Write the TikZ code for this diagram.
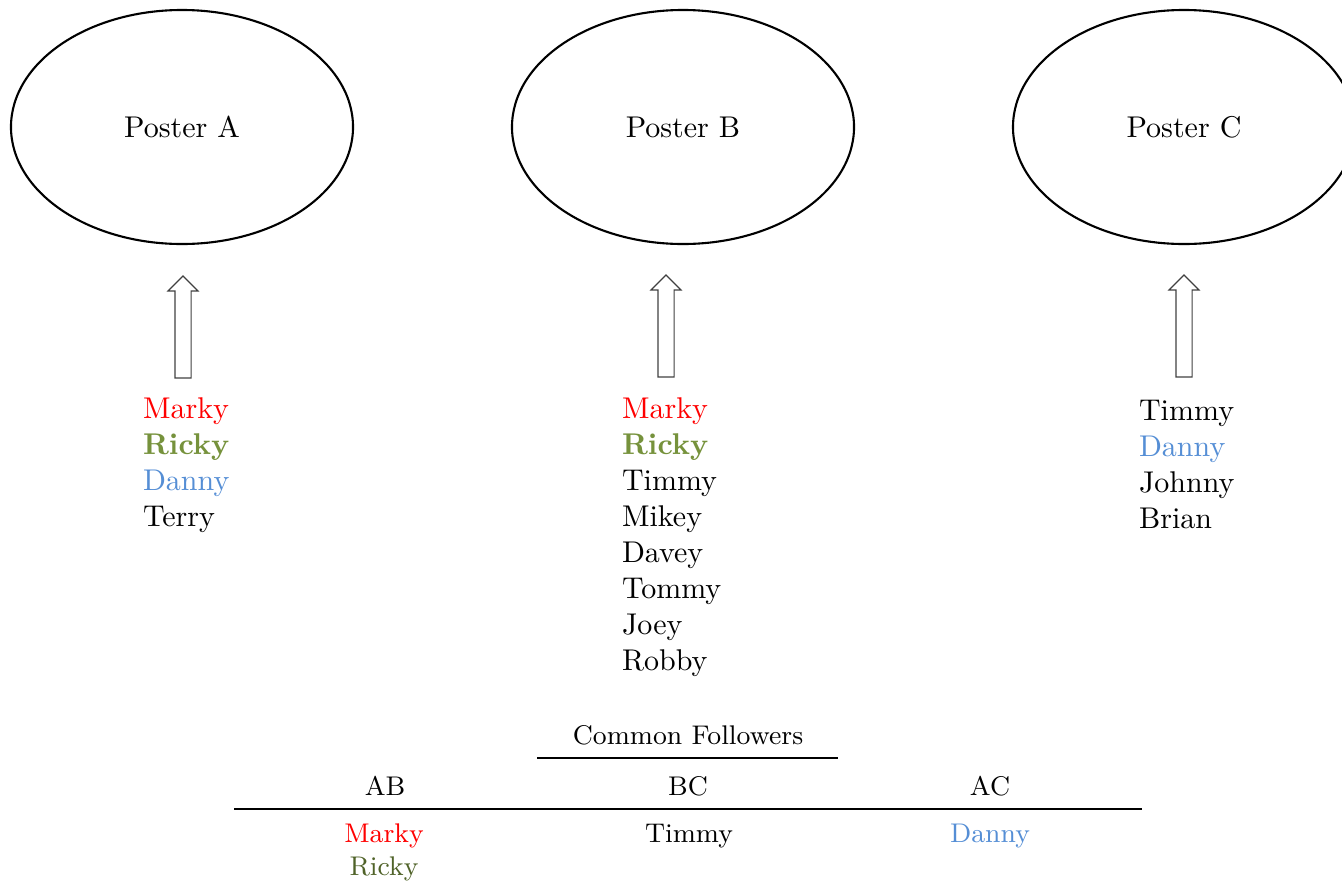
\documentclass[tikz,border=0pt]{standalone}
\usetikzlibrary{shapes.geometric,shapes.arrows}

\definecolor{mkred}{RGB}{255,0,0}
\definecolor{rkolive}{RGB}{118,146,60}
\definecolor{rkdark}{RGB}{79,98,40}
\definecolor{dnblue}{RGB}{85,142,213}

\tikzset{every picture/.style={line width=0.7pt}}
\tikzset{
  poster/.style={draw, ellipse, minimum width=114pt, minimum height=78pt},
  uparrow/.style={draw=black!75, line width=0.4pt, single arrow, rotate=90,
    minimum height=34pt, inner sep=2.5pt, single arrow head extend=2.3pt},
  names/.style={anchor=north west, inner sep=0pt, align=left},
  cell/.style={inner sep=0pt, font=\small, align=center},
  tabrule/.style={line width=0.9pt}
}

\begin{document}
\begin{tikzpicture}[x=0.3333pt,y=0.3333pt,yscale=-1]
\useasboundingbox (0,0) rectangle (1342,886);

%Shape: Ellipse [Poster A]
\node [poster] (posterA) at (182,127) {Poster A};
%Shape: Ellipse [Poster B]
\node [poster] (posterB) at (683,127) {Poster B};
%Shape: Ellipse [Poster C]
\node [poster] (posterC) at (1184,127) {Poster C};

%Shape: Up Arrow
\node [uparrow] (arrowA) at (183,331) {};
%Shape: Up Arrow
\node [uparrow] (arrowB) at (666,330) {};
%Shape: Up Arrow
\node [uparrow] (arrowC) at (1184,330) {};

% Text Node
\node [names] (listA) at (142,397) {\textcolor{mkred}{Marky}\\
\textcolor{rkolive}{\textbf{Ricky}}\\
\textcolor{dnblue}{Danny}\\
Terry};
% Text Node
\node [names] (listB) at (621,397) {\textcolor{mkred}{Marky}\\
\textcolor{rkolive}{\textbf{Ricky}}\\
Timmy\\
Mikey\\
Davey\\
Tommy\\
Joey\\
Robby};
% Text Node
\node [names] (listC) at (1138,399) {Timmy\\
\textcolor{dnblue}{Danny}\\
Johnny\\
Brian};

% Text Node
\node [cell] (common) at (688,735) {Common Followers};
%Straight Lines
\draw [tabrule] (537,758) coordinate (cmidL) -- (838,758) coordinate (cmidR);
% Text Node
\node [cell] (headAB) at (385,786) {AB};
% Text Node
\node [cell] (headBC) at (688,786) {BC};
% Text Node
\node [cell] (headAC) at (990,786) {AC};
%Straight Lines
\draw [tabrule] (234,809) coordinate (midL) -- (1142,809) coordinate (midR);
% Text Node
\node [cell] (cellAB) at (384,852) {\textcolor{mkred}{Marky}\\ \textcolor{rkdark}{Ricky}};
% Text Node
\node [cell] (cellBC) at (689,836) {Timmy};
% Text Node
\node [cell] (cellAC) at (990,836) {\textcolor{dnblue}{Danny}};
\end{tikzpicture}
\end{document}
